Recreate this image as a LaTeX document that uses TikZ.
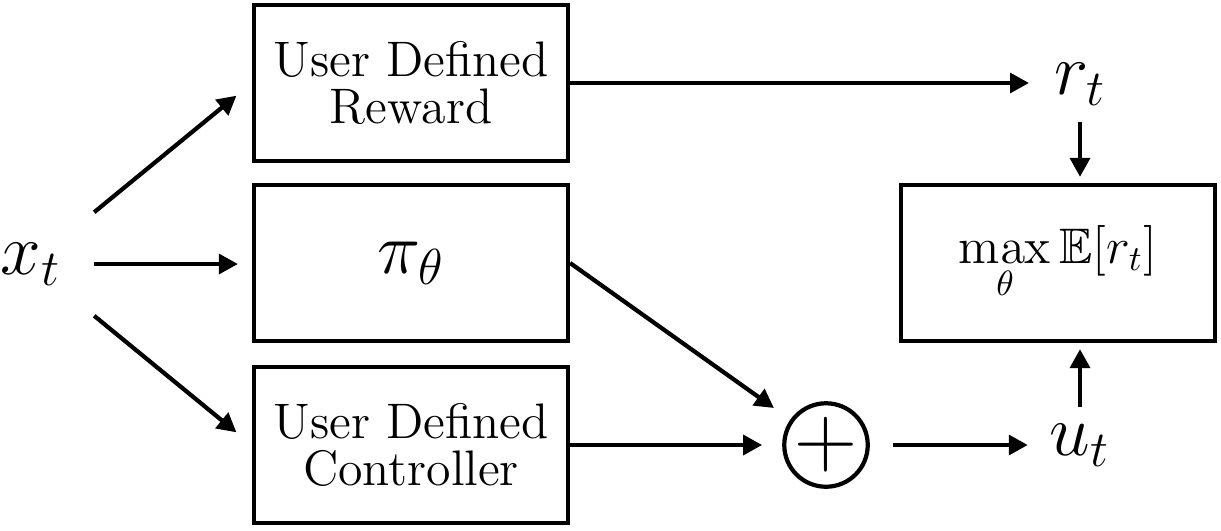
\documentclass[tikz,border=0pt]{standalone}
\usepackage{amsmath,amssymb}
\usepackage{tikz}
\usetikzlibrary{arrows.meta, positioning, calc}

\begin{document}
\begin{tikzpicture}[
    block/.style={rectangle, draw=black, line width=1.2pt, minimum width=3.14cm, minimum height=1.56cm, align=center, font=\fontsize{14.2}{13.6}\selectfont, inner sep=2pt},
    sig/.style={font=\fontsize{22}{26}\selectfont, inner sep=0pt},
    every path/.style={line width=1.2pt},
    >={Triangle[length=5.4pt, width=5.6pt]}
  ]
  \useasboundingbox (0,0) rectangle (12.21,5.30);

  % Signals: state on the left, reward and action on the right
  \node[sig] (xt) at (0.31,2.66) {$x_t$};
  \node[sig] (rt) at (10.80,4.46) {$r_t$};
  \node[sig] (ut) at (10.80,0.85) {$u_t$};

  % Blocks
  \node[block] (reward) at (4.11,4.47) {User Defined\\Reward};
  \node[block, font=\fontsize{22}{26}\selectfont] (policy) at (4.11,2.67) {$\pi_\theta$};
  \node[block] (ctrl) at (4.11,0.85) {User Defined\\Controller};
  \node[block] (objective) at (10.58,2.67) {$\displaystyle\max_{\theta}\mathbb{E}[r_t]$};

  % Summing junction
  \node[circle, draw=black, line width=1.2pt, minimum size=0.82cm, inner sep=0pt, font=\fontsize{26}{30}\selectfont] (sum) at (8.26,0.85) {$+$};

  % Inputs from the state
  \draw[->, shorten <=0.45cm, shorten >=0.2cm] (xt) -- (reward.west);
  \draw[->, shorten <=0.31cm, shorten >=0.14cm] (xt.east) -- (xt.east -| policy.west);
  \draw[->, shorten <=0.45cm, shorten >=0.2cm] (xt) -- (ctrl.west);

  % Outputs of the blocks
  \draw[->, shorten >=0.23cm] (reward.east) -- (reward.east -| rt.west);
  \draw[->, shorten >=0.2cm] (policy.east) -- (sum);
  \draw[->, shorten >=0.2cm] (ctrl.east) -- (sum.west);
  \draw[->, shorten <=0.23cm, shorten >=0.2cm] (sum.east) -- (sum.east -| ut.west);

  % Into the objective
  \draw[->, shorten <=0.15cm, shorten >=0.06cm] (rt.south) -- (rt.south |- objective.north);
  \draw[->, shorten <=0.15cm, shorten >=0.06cm] (ut.north) -- (ut.north |- objective.south);
\end{tikzpicture}
\end{document}
